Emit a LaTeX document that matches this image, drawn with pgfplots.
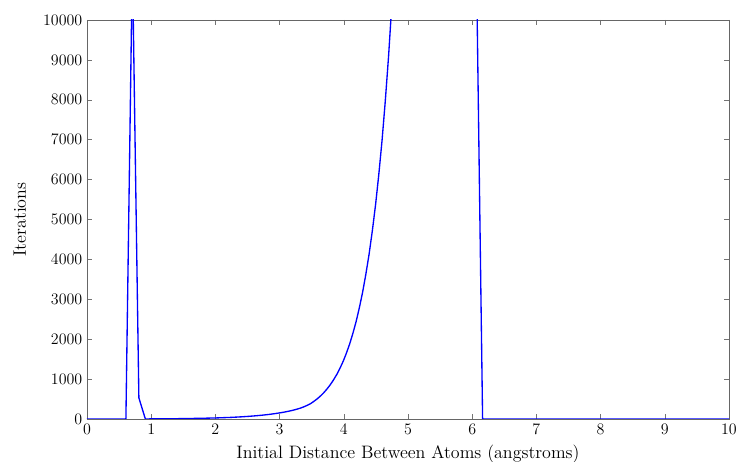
\documentclass[border=0pt]{standalone}
\usepackage{pgfplots}
\pgfplotsset{compat=1.18}
\begin{document}
\begin{tikzpicture}
\begin{axis}[
  name=ax,
  scale only axis,
  width=481.5pt, height=299.25pt,
  xmin=0, xmax=10, ymin=0, ymax=10000,
  xtick={0,1,...,10},
  ytick={0,1000,...,10000},
  scaled y ticks=false,
  /pgf/number format/.cd, 1000 sep={}, /pgfplots/.cd,
  tick align=inside,
  major tick length=3.5pt,
  axis line style={draw=black!60},
  every tick/.style={draw=black!55},
  tick label style={font=\fontsize{13}{15}\selectfont, text=black},
  label style={font=\fontsize{13.5}{15}\selectfont},
  xlabel={Initial Distance Between Atoms (angstroms)},
  ylabel={Iterations},
  xlabel style={yshift=-1pt},
  ylabel style={yshift=6pt},
  clip=true,
]
\addplot[blue, line width=1pt] coordinates {
(0.000,0)(0.101,0)(0.202,0)(0.303,0)(0.404,0)(0.505,0)(0.606,0)
(0.707,11500)(0.808,530)(0.909,0)
(1.010,3)(1.111,4)(1.212,5)(1.313,6)(1.414,8)(1.515,10)(1.616,13)(1.717,16)(1.818,19)(1.919,23)
(2.020,27)(2.121,33)(2.222,39)(2.323,47)(2.424,56)(2.525,67)(2.626,80)(2.727,95)(2.828,113)(2.929,135)
(3.030,160)(3.080,175)(3.131,191)(3.181,209)(3.232,229)(3.283,252)(3.333,278)(3.384,309)(3.434,345)(3.485,388)
(3.535,443)(3.586,505)(3.636,576)(3.687,657)(3.737,750)(3.788,855)(3.838,975)(3.889,1111)(3.939,1267)(3.990,1445)
(4.040,1648)(4.091,1879)(4.141,2143)(4.192,2443)(4.242,2786)(4.293,3177)(4.343,3623)(4.394,4131)(4.444,4711)(4.495,5372)
(4.545,6125)(4.596,6985)(4.646,7965)(4.697,9082)(4.747,10357)(4.848,10500)(4.949,10500)
(5.051,10500)(5.152,10500)(5.253,10500)(5.354,10500)(5.455,10500)(5.556,10500)(5.657,10500)(5.758,10500)(5.859,10500)(5.960,10500)
(6.061,12000)(6.162,0)(6.263,0)(6.364,0)(6.465,0)(6.566,0)(6.667,0)(6.768,0)(6.869,0)(6.970,0)
(7.071,0)(7.172,0)(7.273,0)(7.374,0)(7.475,0)(7.576,0)(7.677,0)(7.778,0)(7.879,0)(7.980,0)
(8.081,0)(8.182,0)(8.283,0)(8.384,0)(8.485,0)(8.586,0)(8.687,0)(8.788,0)(8.889,0)(8.990,0)
(9.091,0)(9.192,0)(9.293,0)(9.394,0)(9.495,0)(9.596,0)(9.697,0)(9.798,0)(9.899,0)(10.000,0)
};
\coordinate (bl) at (rel axis cs:0,0);
\coordinate (tr) at (rel axis cs:1,1);
\end{axis}
\pgfresetboundingbox
\path ([shift={(-65.25pt,-32.25pt)}]bl) rectangle ([shift={(10.5pt,15pt)}]tr);
\end{tikzpicture}
\end{document}
